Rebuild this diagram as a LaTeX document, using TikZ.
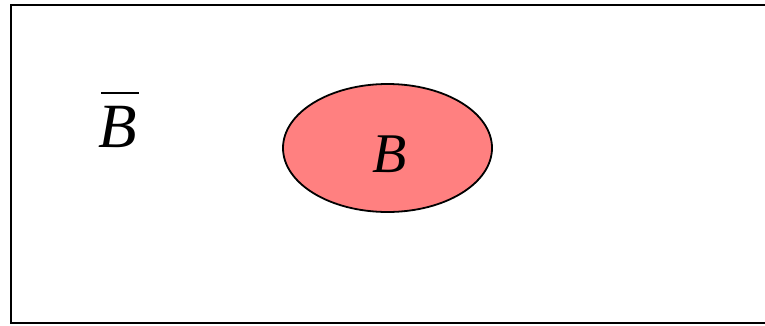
\documentclass[tikz,border=0pt]{standalone}
\usepackage{fontspec}
\setmainfont{Liberation Serif}
\usetikzlibrary{shapes.geometric}
\definecolor{SetRed}{RGB}{255,128,128}
\newcommand{\complbar}[1]{\makebox[0pt][l]{\hspace{0.04em}\raisebox{0.84em}{\rule{0.6em}{0.034em}}}#1}

\begin{document}
\begin{tikzpicture}[x=1pt,y=-1pt,
    frame/.style={draw=black,line width=2pt},
    setnd/.style={ellipse,draw=black,line width=1.8pt,fill=SetRed,
                  minimum width=209pt,minimum height=128pt,inner sep=0pt},
    lbl/.style={font=\fontsize{56}{60}\selectfont\itshape,inner sep=0pt}
  ]
    \useasboundingbox (0,0) rectangle (765,325);
    % universe (right side runs off the page)
    \draw[frame] (767,5) -- (11,5) -- (11,323) -- (767,323);
    % the set and its complement
    \node[setnd] (setB) at (387.5,148) {};
    \node[lbl,anchor=base] (lblB) at (390,172) {B};
    \node[lbl,anchor=base,font=\fontsize{63}{70}\selectfont\itshape] (notB) at (118,147)
      {\complbar{B}};
\end{tikzpicture}
\end{document}
